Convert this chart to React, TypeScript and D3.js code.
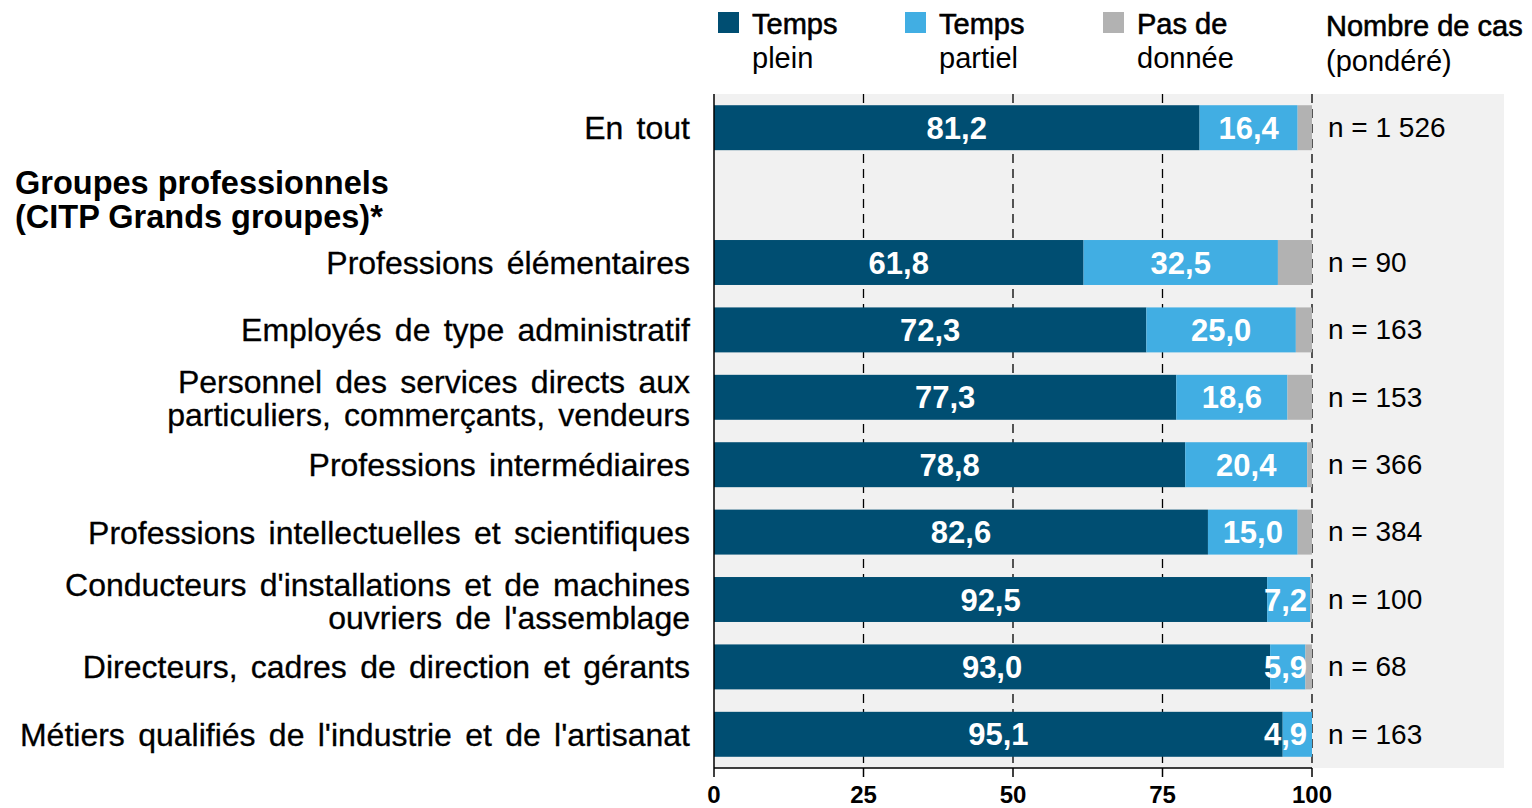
import React from 'react';
import * as d3 from 'd3';

const width = 1532;
const height = 808;

// bar rows, top to bottom (the heading sits in its own empty slot after "En tout")
const categories = [
  'En tout',
  'Professions élémentaires',
  'Employés de type administratif',
  'Personnel des services directs aux\nparticuliers, commerçants, vendeurs',
  'Professions intermédiaires',
  'Professions intellectuelles et scientifiques',
  "Conducteurs d'installations et de machines\nouvriers de l'assemblage",
  'Directeurs, cadres de direction et gérants',
  "Métiers qualifiés de l'industrie et de l'artisanat",
];
const groupHeading = 'Groupes professionnels\n(CITP Grands groupes)*';

const tempsPlein = [81.2, 61.8, 72.3, 77.3, 78.8, 82.6, 92.5, 93.0, 95.1];
const tempsPartiel = [16.4, 32.5, 25.0, 18.6, 20.4, 15.0, 7.2, 5.9, 4.9];
const pasDeDonnee = [2.4, 5.7, 2.7, 4.1, 0.8, 2.4, 0.3, 1.1, 0.0];
const nombreCas = ['1 526', '90', '163', '153', '366', '384', '100', '68', '163'];

const seriesKeys = ['plein', 'partiel', 'nd'];
const seriesColors = ['#004e72', '#41aee3', '#b2b2b2'];
const legendLabels = [['Temps', 'plein'], ['Temps', 'partiel'], ['Pas de', 'donnée']];
const casTitle = ['Nombre de cas', '(pondéré)'];
const xTicks = [0, 25, 50, 75, 100];

const font = '"Liberation Sans", Arial, sans-serif';
const frFormat = d3.formatLocale({ decimal: ',', thousands: ' ', grouping: [3], currency: ['', ' €'] }).format('.1f');

const x = d3.scaleLinear().domain([0, 100]).range([714, 1312]);
const slots = [categories[0], groupHeading, ...categories.slice(1)];
const y = d3.scaleBand().domain(slots).range([94, 768]).paddingInner(0.333).paddingOuter(0.1665);

const rows = categories.map((c, i) => ({
  cat: c,
  plein: tempsPlein[i],
  partiel: tempsPartiel[i],
  nd: pasDeDonnee[i],
}));
const stacked = d3.stack().keys(seriesKeys)(rows as any);

const App = () => {
  const bw = y.bandwidth();
  const headY = (y(groupHeading) as number) + bw / 2 + 4;
  return (
    <svg width={width} height={height} style={{ position: 'absolute', left: 0, top: 0, fontFamily: font }}>
      <rect x={714} y={94} width={1504 - 714} height={768 - 94} fill="#f1f1f1" />

      {xTicks.slice(1).map(t => (
        <line key={t} x1={x(t)} x2={x(t)} y1={94} y2={768} stroke="#000" strokeWidth={1.3} strokeDasharray="9,6" />
      ))}

      {stacked.map((s, si) => (
        <g key={s.key} fill={seriesColors[si]}>
          {s.map((d, i) => (
            <rect key={i} x={x(d[0])} y={y(categories[i]) as number} width={Math.max(0, x(d[1]) - x(d[0]))} height={bw} />
          ))}
        </g>
      ))}

      {stacked.slice(0, 2).map(s => (
        <g key={'lab' + s.key}>
          {s.map((d, i) => {
            const txt = frFormat(d[1] - d[0]);
            const w = (txt.length - 1) * 0.556 * 31 + 0.278 * 31;
            const cx = Math.min((x(d[0]) + x(d[1])) / 2, x(100) - w / 2 - 5);
            return (
              <text key={i} x={cx} y={(y(categories[i]) as number) + bw / 2} dy="0.36em" textAnchor="middle"
                fill="#fff" fontWeight="bold" fontSize={31}>{txt}</text>
            );
          })}
        </g>
      ))}

      {/* axes */}
      <line x1={714} x2={714} y1={94} y2={768} stroke="#000" strokeWidth={1.5} />
      <line x1={714} x2={1312} y1={768} y2={768} stroke="#000" strokeWidth={1.5} />
      {xTicks.map(t => (
        <g key={'t' + t}>
          <line x1={x(t)} x2={x(t)} y1={768} y2={777} stroke="#000" strokeWidth={1.5} />
          <text x={x(t)} y={794} dy="0.36em" textAnchor="middle" fontWeight="bold" fontSize={24}>{t}</text>
        </g>
      ))}

      {/* category labels */}
      {categories.map((c, i) => {
        const lines = c.split('\n');
        const cy = (y(c) as number) + bw / 2 + (lines.length > 1 ? 1 : 0);
        return (
          <text key={c} x={690} textAnchor="end" fontSize={32} wordSpacing={4.4} fill="#000" stroke="#000" strokeWidth={0.3}>
            {lines.map((l, li) => (
              <tspan key={li} x={690} y={cy + (li - (lines.length - 1) / 2) * 33} dy="0.36em">{l}</tspan>
            ))}
          </text>
        );
      })}

      <text fontSize={32.5} fontWeight="bold" fill="#000">
        {groupHeading.split('\n').map((l, li) => (
          <tspan key={li} x={15} y={headY + (li - 0.5) * 34} dy="0.36em">{l}</tspan>
        ))}
      </text>

      {/* case counts */}
      {categories.map((c, i) => (
        <text key={'n' + i} x={1328} y={(y(c) as number) + bw / 2} dy="0.33em" fontSize={28} fill="#000">
          {'n = ' + nombreCas[i]}
        </text>
      ))}

      {/* legend */}
      {legendLabels.map((l, i) => {
        const lx = [718, 905, 1103][i];
        return (
          <g key={'leg' + i}>
            <rect x={lx} y={12} width={21} height={21} fill={seriesColors[i]} />
            <text x={lx + 34} y={34} fontSize={29} fill="#000" stroke="#000" strokeWidth={0.6}>{l[0]}</text>
            <text x={lx + 34} y={68} fontSize={29} fill="#000">{l[1]}</text>
          </g>
        );
      })}
      <text x={1326} y={36} fontSize={29} fill="#000" stroke="#000" strokeWidth={0.6}>{casTitle[0]}</text>
      <text x={1326} y={71} fontSize={29} fill="#000">{casTitle[1]}</text>
    </svg>
  );
};

export default App;
